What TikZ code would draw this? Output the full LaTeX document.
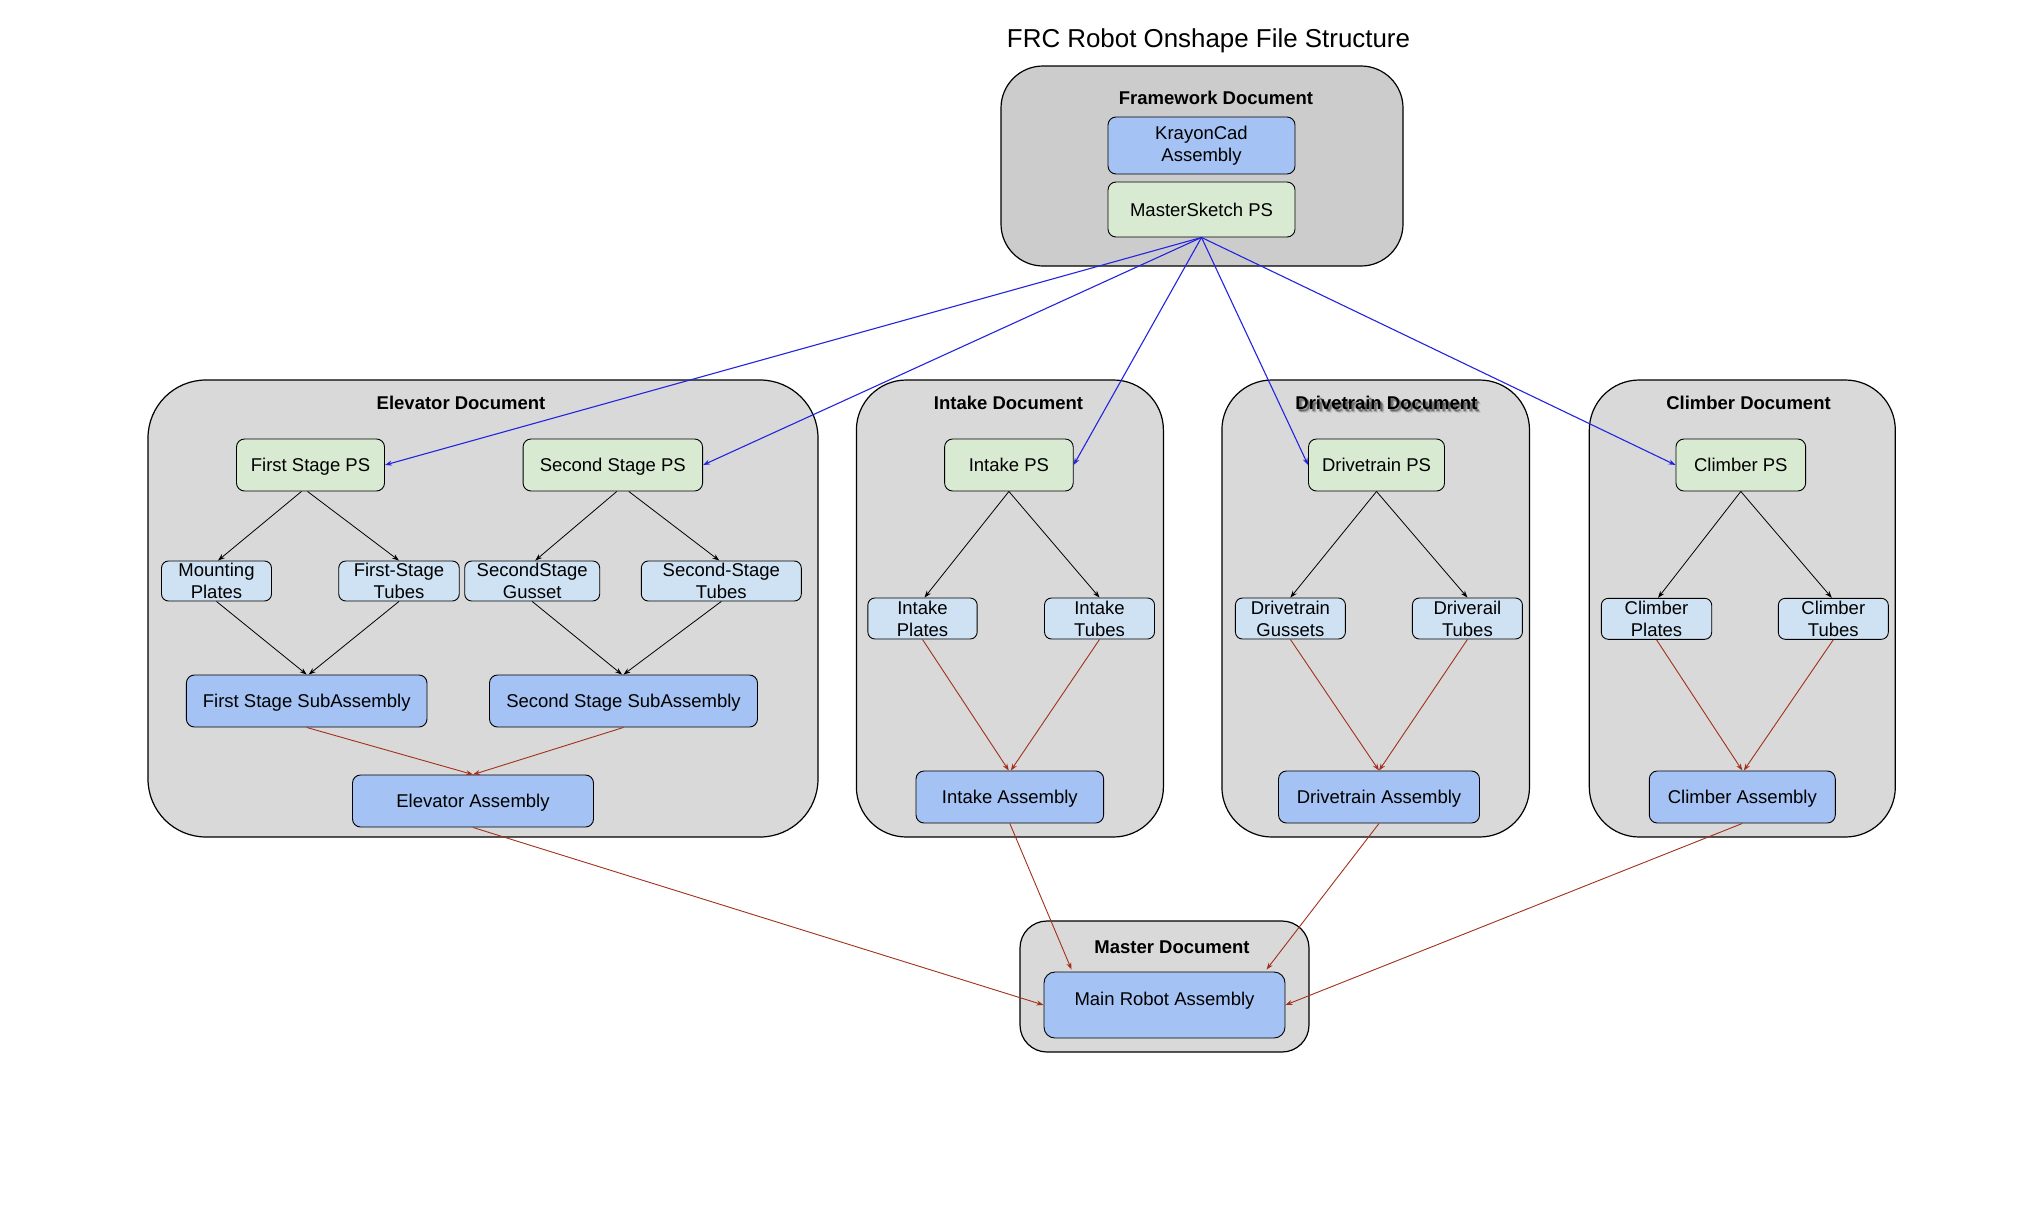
\documentclass[tikz,border=0pt]{standalone}
\usepackage{fontspec}
\setmainfont{Liberation Sans}
\usetikzlibrary{arrows.meta}
\definecolor{docgray}{HTML}{D9D9D9}
\definecolor{fwgray}{HTML}{CCCCCC}
\definecolor{psgreen}{HTML}{D9EAD3}
\definecolor{partblue}{HTML}{CFE2F3}
\definecolor{asmblue}{HTML}{A4C2F4}
\definecolor{linkred}{HTML}{A3301C}
\definecolor{linkblue}{HTML}{2424E0}
\begin{document}
\begin{tikzpicture}[x=1pt,y=-1pt,
  font=\fontsize{18.5}{22}\selectfont,
  docbox/.style={draw=black, line width=1.2pt, fill=docgray, inner sep=0pt},
  doclabel/.style={font=\fontsize{18.5}{22}\selectfont\bfseries, anchor=base, inner sep=0pt},
  psbox/.style={draw=black, line width=0.9pt, fill=psgreen, rounded corners=8pt, inner sep=0pt, text depth=0pt, minimum height=52pt},
  partbox/.style={draw=black, line width=0.9pt, fill=partblue, rounded corners=7pt, inner sep=0pt, align=center, minimum height=41pt},
  asmbox/.style={draw=black, line width=0.9pt, fill=asmblue, rounded corners=8pt, inner sep=0pt, text depth=0pt, minimum height=52pt},
  arrowlink/.style={-{Stealth[length=7pt,width=5pt]}},
  blackline/.style={arrowlink, draw=black, line width=0.8pt},
  redline/.style={arrowlink, draw=linkred, line width=0.9pt},
  blueline/.style={arrowlink, draw=linkblue, line width=1.1pt},
]
\fill[white] (0,0) rectangle (2020,1226);
\useasboundingbox (0,0) rectangle (2020,1226);

% title
\node[font=\fontsize{25.9}{30}\selectfont, anchor=base, inner sep=0pt] (title) at (1208.5,47) {FRC Robot Onshape File Structure};

% containers
\node[docbox, fill=fwgray, rounded corners=42pt, minimum width=402pt, minimum height=200pt] (fwdoc) at (1202,166) {};
\node[docbox, rounded corners=58pt, minimum width=670pt, minimum height=457pt] (elevdoc) at (483,608.5) {};
\node[docbox, rounded corners=50pt, minimum width=307pt, minimum height=457pt] (intakedoc) at (1009.9,608.5) {};
\node[docbox, rounded corners=50pt, minimum width=307.6pt, minimum height=457pt] (drivedoc) at (1375.7,608.5) {};
\node[docbox, rounded corners=50pt, minimum width=306pt, minimum height=457pt] (climbdoc) at (1742.3,608.5) {};
\node[docbox, rounded corners=27pt, minimum width=289pt, minimum height=131pt] (masterdoc) at (1164.5,986.5) {};

% container labels
\node[doclabel] (fwlabel) at (1216,104.3) {Framework Document};
\node[doclabel] (elevlabel) at (461,409) {Elevator Document};
\node[doclabel] (intakelabel) at (1008.5,409.5) {Intake Document};
\foreach \dx/\dy/\op [count=\i] in {2/2/0.22, 3/3/0.15, 1.5/3/0.12, 3/1.5/0.12, 4/4/0.08}
  \node[doclabel, text=black, opacity=\op] (driveshadow\i) at (1386.4+\dx,409.5+\dy) {Drivetrain Document};
\node[doclabel] (drivelabel) at (1386.4,409.5) {Drivetrain Document};
\node[doclabel] (climblabel) at (1748.5,409.5) {Climber Document};
\node[doclabel] (masterlabel) at (1172,953) {Master Document};

% framework
\node[draw=black, line width=0.9pt, fill=asmblue, rounded corners=8pt, inner sep=0pt, align=center, minimum width=187pt, minimum height=57pt] (krayon) at (1201.5,145.5) {KrayonCad\\Assembly};
\node[psbox, minimum width=187pt, minimum height=55pt] (msps) at (1201.5,209.5) {MasterSketch PS};

% elevator
\node[psbox, minimum width=148pt] (fsps) at (310.5,465) {First Stage PS};
\node[psbox, minimum width=179.5pt] (ssps) at (612.8,465) {Second Stage PS};
\node[partbox, minimum width=110pt, minimum height=40pt] (mp) at (216.5,581) {Mounting\\Plates};
\node[partbox, minimum width=120.5pt, minimum height=40pt] (fst) at (399,581) {First-Stage\\Tubes};
\node[partbox, minimum width=135pt, minimum height=40pt] (ssg) at (532.2,581) {SecondStage\\Gusset};
\node[partbox, minimum width=160pt, minimum height=40pt] (sst) at (721.3,581) {Second-Stage\\Tubes};
\node[asmbox, minimum width=240.6pt] (fssub) at (306.7,701) {First Stage SubAssembly};
\node[asmbox, minimum width=268pt] (sssub) at (623.5,701) {Second Stage SubAssembly};
\node[asmbox, minimum width=241pt] (elevasm) at (473,801) {Elevator Assembly};

% intake
\node[psbox, minimum width=128.6pt] (intakeps) at (1008.9,465) {Intake PS};
\node[partbox, minimum width=109.3pt] (intakeplates) at (922.5,618.5) {Intake\\Plates};
\node[partbox, minimum width=110pt] (intaketubes) at (1099.5,618.5) {Intake\\Tubes};
\node[asmbox, minimum width=187.6pt] (intakeasm) at (1009.8,797) {Intake Assembly};

% drivetrain
\node[psbox, minimum width=136pt] (driveps) at (1376.5,465) {Drivetrain PS};
\node[partbox, minimum width=110pt] (drivegussets) at (1290.4,618.5) {Drivetrain\\Gussets};
\node[partbox, minimum width=110pt] (drivetubes) at (1467.4,618.5) {Driverail\\Tubes};
\node[asmbox, minimum width=201pt] (driveasm) at (1379,797) {Drivetrain Assembly};

% climber
\node[psbox, minimum width=129.7pt] (climbps) at (1740.8,465) {Climber PS};
\node[partbox, minimum width=110.4pt] (climbplates) at (1656.5,618.8) {Climber\\Plates};
\node[partbox, minimum width=110pt] (climbtubes) at (1833.3,618.8) {Climber\\Tubes};
\node[asmbox, minimum width=186pt] (climbasm) at (1742.3,797) {Climber Assembly};

% master
\node[asmbox, rounded corners=11pt, minimum width=241pt, minimum height=66pt, text depth=12pt] (mainasm) at (1164.5,1005) {Main Robot Assembly};

% black arrows
\draw[blackline] ([xshift=-9pt]fsps.south) -- ([xshift=1.5pt]mp.north);
\draw[blackline] ([xshift=-3pt]fsps.south) -- (fst.north);
\draw[blackline] ([xshift=4pt]ssps.south) -- ([xshift=3pt]ssg.north);
\draw[blackline] ([xshift=16pt]ssps.south) -- ([xshift=-2pt]sst.north);
\draw[blackline] (mp.south) -- (fssub.north);
\draw[blackline] (fst.south) -- ([xshift=2pt]fssub.north);
\draw[blackline] (ssg.south) -- ([xshift=-1.5pt]sssub.north);
\draw[blackline] (sst.south) -- (sssub.north);
\draw[blackline] (intakeps.south) -- ([xshift=2pt]intakeplates.north);
\draw[blackline] (intakeps.south) -- (intaketubes.north);
\draw[blackline] (driveps.south) -- (drivegussets.north);
\draw[blackline] (driveps.south) -- (drivetubes.north);
\draw[blackline] (climbps.south) -- ([xshift=1.5pt]climbplates.north);
\draw[blackline] (climbps.south) -- ([xshift=-1.5pt]climbtubes.north);

% red arrows
\draw[redline] (fssub.south) -- (elevasm.north);
\draw[redline] (sssub.south) -- (elevasm.north);
\draw[redline] (intakeplates.south) -- ([xshift=-1pt]intakeasm.north);
\draw[redline] (intaketubes.south) -- ([xshift=1pt]intakeasm.north);
\draw[redline] (drivegussets.south) -- (driveasm.north);
\draw[redline] (drivetubes.south) -- (driveasm.north);
\draw[redline] (climbplates.south) -- (climbasm.north);
\draw[redline] (climbtubes.south) -- ([xshift=1.5pt]climbasm.north);
\draw[redline] (elevasm.south) -- (mainasm.west);
\draw[redline] (intakeasm.south) -- ([xshift=-93pt,yshift=2pt]mainasm.north);
\draw[redline] (driveasm.south) -- ([xshift=102pt,yshift=2pt]mainasm.north);
\draw[redline] (climbasm.south) -- (mainasm.east);

% blue arrows
\draw[blueline] (msps.south) -- (fsps.east);
\draw[blueline] (msps.south) -- (ssps.east);
\draw[blueline] (msps.south) -- (intakeps.east);
\draw[blueline] (msps.south) -- (driveps.west);
\draw[blueline] (msps.south) -- (climbps.west);
\end{tikzpicture}
\end{document}
